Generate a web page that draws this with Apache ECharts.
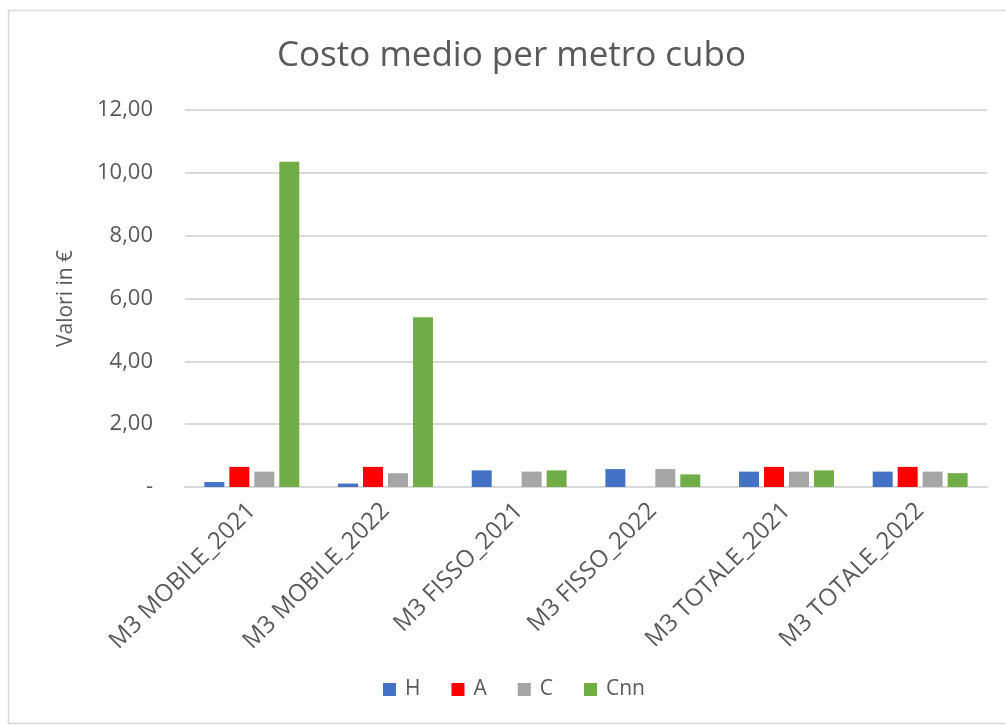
<!DOCTYPE html>
<html>
<head>
<meta charset="utf-8">
<script src="https://cdn.jsdelivr.net/npm/echarts@6/dist/echarts.min.js"></script>
<style>
html,body{margin:0;padding:0;background:#fff;}
#chart{width:1006px;height:725px;}
</style>
</head>
<body>
<div id="chart"></div>
<script>
const categories = ['M3 MOBILE_2021','M3 MOBILE_2022','M3 FISSO_2021','M3 FISSO_2022','M3 TOTALE_2021','M3 TOTALE_2022'];
const seriesNames = ['H','A','C','Cnn'];
const valuesH   = [0.16, 0.11, 0.53, 0.57, 0.49, 0.49];
const valuesA   = [0.64, 0.64, null, null, 0.64, 0.64];
const valuesC   = [0.49, 0.44, 0.49, 0.57, 0.49, 0.49];
const valuesCnn = [10.35, 5.40, 0.53, 0.40, 0.53, 0.44];
const colors = ['#4472C4','#FF0000','#A5A5A5','#70AD47'];
const yTicks = {min:0, max:12, interval:2};

const font = '"Open Sans", "Noto Sans", sans-serif';
const txt = '#595959';
const chart = echarts.init(document.getElementById('chart'), null, {renderer:'canvas'});
const data = [valuesH, valuesA, valuesC, valuesCnn];
chart.setOption({
  animation:false,
  backgroundColor:'#fff',
  graphic:[{type:'rect', shape:{x:8.5,y:10.5,width:1100,height:713}, style:{fill:'none', stroke:'#d9d9d9', lineWidth:1.5}, silent:true}],
  title:{text:'Costo medio per metro cubo', left:272, top:34, textStyle:{fontFamily:font, fontSize:35, fontWeight:'normal', color:txt}},
  legend:{bottom:20, left:378, itemWidth:13, itemHeight:13, itemGap:31, icon:'rect',
    textStyle:{fontFamily:font, fontSize:21, color:txt, padding:[0,0,0,4]}, data:seriesNames},
  grid:{left:185, right:19, top:110, bottom:238, containLabel:false},
  xAxis:{type:'category', data:categories,
    axisLine:{lineStyle:{color:'#d9d9d9', width:2}}, axisTick:{show:false},
    axisLabel:{rotate:45, interval:0, fontFamily:font, fontSize:24, color:txt, margin:20}},
  yAxis:{type:'value', min:yTicks.min, max:yTicks.max, interval:yTicks.interval,
    name:'Valori in €', nameLocation:'middle', nameGap:108, nameRotate:90,
    nameTextStyle:{fontFamily:font, fontSize:21, color:txt},
    axisLine:{show:false}, axisTick:{show:false},
    splitLine:{lineStyle:{color:'#d9d9d9', width:2}},
    axisLabel:{fontFamily:font, fontSize:22, color:txt, margin:32,
      formatter:v=> v===0 ? '-' : v.toFixed(2).replace('.',',')}},
  series: seriesNames.map((n,i)=>({name:n, type:'bar', data:data[i], barGap:'25%', barCategoryGap:'29%',
    itemStyle:{color:colors[i]}}))
});
</script>
</body>
</html>
